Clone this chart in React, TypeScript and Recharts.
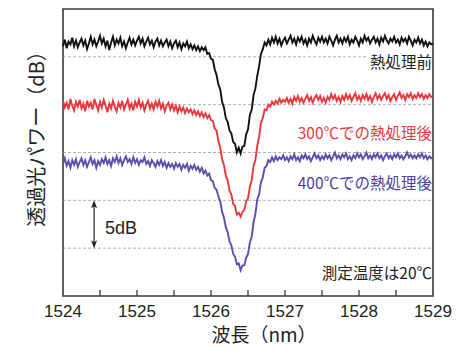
import { LineChart, Line, XAxis, YAxis, ReferenceLine, ReferenceArea } from "recharts";

// transmission spectra, dB, sampled every 0.025 nm from 1524 nm
const WL_START = 1524;
const WL_STEP = 0.025;

const X_TICKS = [1524, 1524.5, 1525, 1525.5, 1526, 1526.5, 1527, 1527.5, 1528, 1528.5, 1529];
const GRID_DB = [-5, -10, -15, -20, -25];

// 熱処理前
const BEFORE = [
  -3.9, -3.2, -4.1, -3.4, -3.7, -3.0, -3.9, -3.3, -4.0, -3.5,
  -3.1, -3.8, -3.3, -4.2, -3.6, -2.9, -3.7, -3.2, -3.9, -3.4,
  -2.8, -3.6, -3.1, -3.9, -3.3, -4.3, -3.5, -2.9, -3.8, -3.2,
  -3.6, -3.0, -3.9, -3.4, -4.1, -3.5, -3.0, -3.7, -3.2, -3.8,
  -3.3, -2.9, -3.6, -3.1, -3.9, -3.4, -3.0, -3.7, -3.3, -4.0,
  -3.4, -3.1, -3.8, -3.3, -3.9, -3.5, -3.2, -3.9, -3.4, -4.1,
  -3.6, -3.3, -4.0, -3.5, -4.2, -3.6, -3.9, -3.4, -4.1, -3.7,
  -4.2, -3.8, -4.3, -3.9, -4.4, -4.0, -4.3, -4.0, -4.7, -4.6,
  -5.2, -5.3, -6.3, -6.9, -7.9, -8.4, -9.7, -10.3, -11.4, -11.8,
  -12.7, -13.0, -13.9, -14.1, -15.0, -14.5, -15.1, -14.4, -14.3, -13.1,
  -12.6, -11.1, -10.5, -9.0, -8.3, -7.0, -6.0, -4.7, -4.2, -3.5,
  -3.8, -3.2, -3.7, -3.0, -3.5, -2.9, -3.6, -3.1, -3.8, -3.3,
  -3.0, -3.6, -3.2, -2.8, -3.5, -3.1, -3.7, -3.0, -3.4, -2.9,
  -3.6, -3.2, -3.8, -3.1, -3.5, -2.8, -3.3, -3.7, -3.0, -3.4,
  -2.9, -3.5, -3.1, -3.6, -2.9, -3.3, -3.8, -3.2, -2.8, -3.5,
  -3.1, -3.6, -3.0, -3.4, -2.9, -3.7, -3.2, -3.5, -2.9, -3.3,
  -3.8, -3.1, -3.5, -2.8, -3.3, -3.0, -3.6, -3.2, -2.9, -3.5,
  -3.1, -3.7, -3.0, -3.4, -2.8, -3.3, -3.6, -3.1, -3.4, -2.9,
  -3.5, -3.2, -3.7, -3.0, -3.4, -3.1, -3.6, -2.9, -3.3, -3.8,
  -3.2, -3.5, -3.0, -3.6, -3.2, -3.8, -3.4, -3.9, -3.5, -3.7,
  -3.6,
];

// 300℃での熱処理後
const AFTER_300 = [
  -9.6, -10.3, -9.8, -10.5, -9.4, -10.1, -10.6, -9.7, -10.2, -9.5,
  -10.4, -9.9, -10.7, -9.6, -10.2, -9.8, -10.5, -9.4, -10.0, -10.6,
  -9.7, -10.3, -9.5, -10.1, -10.8, -9.9, -10.4, -9.6, -10.2, -10.7,
  -9.8, -10.3, -9.6, -10.5, -10.0, -9.5, -10.4, -9.9, -10.6, -9.7,
  -10.2, -9.5, -10.3, -9.8, -10.6, -10.0, -9.6, -10.4, -9.9, -10.5,
  -9.7, -10.2, -9.6, -10.4, -9.9, -10.7, -10.1, -9.8, -10.5, -10.0,
  -10.6, -10.1, -10.8, -10.2, -10.7, -10.3, -10.9, -10.4, -10.8, -10.5,
  -11.0, -10.6, -11.1, -10.7, -11.2, -10.8, -11.3, -10.9, -11.4, -11.1,
  -11.6, -11.7, -12.5, -12.7, -13.8, -14.5, -15.7, -16.3, -17.4, -17.9,
  -19.0, -19.4, -20.4, -20.6, -21.5, -21.3, -21.7, -21.2, -21.0, -20.1,
  -19.8, -18.6, -17.9, -16.4, -15.8, -14.3, -13.4, -11.9, -11.4, -10.5,
  -10.6, -10.0, -10.2, -9.7, -10.0, -9.6, -9.9, -9.4, -9.8, -9.5,
  -9.7, -9.3, -9.8, -9.4, -9.9, -9.2, -9.6, -9.1, -9.7, -9.3,
  -9.8, -9.4, -9.0, -9.6, -9.2, -9.8, -9.3, -9.0, -9.5, -9.1,
  -9.7, -9.3, -9.8, -9.2, -9.5, -8.9, -9.4, -9.0, -9.6, -9.2,
  -9.7, -9.1, -9.5, -8.9, -9.4, -9.0, -9.6, -9.2, -8.8, -9.5,
  -9.1, -9.6, -9.0, -9.4, -8.9, -9.5, -9.1, -9.7, -9.2, -8.8,
  -9.4, -9.0, -9.5, -9.1, -8.8, -9.4, -9.0, -9.6, -9.2, -8.9,
  -9.5, -9.1, -8.7, -9.3, -9.0, -9.5, -8.9, -9.2, -8.8, -9.4,
  -9.0, -9.3, -8.8, -9.2, -8.9, -9.4, -9.0, -9.3, -8.9, -9.2,
  -9.1,
];

// 400℃での熱処理後
const AFTER_400 = [
  -16.2, -15.6, -16.4, -15.9, -16.6, -15.8, -16.3, -15.7, -16.5, -16.0,
  -15.6, -16.3, -15.8, -16.5, -16.0, -15.5, -16.2, -15.8, -16.6, -15.9,
  -16.3, -15.7, -16.1, -15.5, -16.2, -15.8, -16.4, -15.6, -16.0, -15.4,
  -16.1, -15.6, -16.3, -15.8, -15.4, -16.0, -15.7, -16.2, -15.5, -16.1,
  -15.7, -16.3, -15.8, -16.0, -15.5, -16.2, -15.9, -16.4, -15.8, -16.1,
  -16.5, -15.9, -16.3, -15.8, -16.4, -16.0, -16.6, -16.1, -16.5, -16.2,
  -16.7, -16.1, -16.5, -16.2, -16.8, -16.3, -16.6, -16.2, -16.9, -16.4,
  -16.7, -16.3, -16.8, -16.5, -17.0, -16.6, -17.2, -16.9, -17.4, -17.2,
  -17.9, -18.0, -18.7, -18.9, -19.6, -20.1, -21.2, -21.8, -22.8, -23.3,
  -24.3, -24.7, -25.6, -25.9, -26.7, -26.6, -27.3, -26.8, -26.8, -26.0,
  -25.6, -24.4, -23.8, -22.3, -21.4, -19.9, -19.4, -18.1, -17.6, -16.6,
  -16.4, -15.8, -16.0, -15.5, -15.9, -15.4, -15.8, -15.5, -15.7, -15.3,
  -15.8, -15.5, -15.9, -15.4, -15.7, -15.2, -15.8, -15.5, -15.9, -15.3,
  -15.6, -15.2, -15.7, -15.4, -15.9, -15.5, -15.1, -15.6, -15.3, -15.8,
  -15.4, -15.7, -15.2, -15.6, -15.3, -15.8, -15.4, -15.0, -15.6, -15.3,
  -15.7, -15.2, -15.5, -15.1, -15.7, -15.4, -15.8, -15.3, -15.6, -15.1,
  -15.5, -15.2, -15.7, -15.4, -15.0, -15.6, -15.3, -15.7, -15.2, -15.5,
  -15.1, -15.6, -15.3, -15.8, -15.4, -15.1, -15.6, -15.3, -15.7, -15.2,
  -15.5, -15.1, -15.6, -15.3, -15.7, -15.4, -15.0, -15.5, -15.2, -15.6,
  -15.3, -15.6, -15.2, -15.5, -15.1, -15.6, -15.3, -15.7, -15.4, -15.6,
  -15.5,
];

const ARROW_WL = 1524.42;
const ARROW_DB: [number, number] = [-20, -25];

const C = {
  frame: "#3a3a3a",
  grid: "#9a9a9a",
  text: "#222222",
  before: "#111111",
  a300: "#e8383d",
  a400: "#5a4fae",
  a400Text: "#4d3f9c",
};

const SANS = "'Liberation Sans', Arial, Helvetica, sans-serif";
const JP = "'Noto Sans CJK JP', 'Noto Sans', sans-serif";
const TRACE_W = 1.9;

const data = BEFORE.map((v, i) => ({
  wl: WL_START + i * WL_STEP,
  before: v,
  a300: AFTER_300[i],
  a400: AFTER_400[i],
}));

function WlTick(props: any) {
  const { x, y, payload } = props;
  const v = payload.value as number;
  const edge = v === X_TICKS[0] || v === X_TICKS[X_TICKS.length - 1];
  return (
    <g>
      {!edge && <line x1={x} y1={y} x2={x} y2={y - 6} stroke={C.frame} strokeWidth={1.3} />}
      {Number.isInteger(v) && (
        <text x={x} y={y + 21} textAnchor="middle" fontSize={17} fill={C.text} fontFamily={SANS}>
          {v}
        </text>
      )}
    </g>
  );
}

function ScaleArrow(props: any) {
  const { x1, y1, x2, y2 } = props;
  const top = Math.min(y1, y2);
  const bot = Math.max(y1, y2);
  return (
    <g>
      <line x1={x1} y1={top + 2} x2={x2} y2={bot - 2} stroke={C.text} strokeWidth={1.2} />
      <path d={`M${x1},${top} L${x1 - 3},${top + 8} L${x1},${top + 6} L${x1 + 3},${top + 8} Z`} fill={C.text} />
      <path d={`M${x1},${bot} L${x1 - 3},${bot - 8} L${x1},${bot - 6} L${x1 + 3},${bot - 8} Z`} fill={C.text} />
    </g>
  );
}

const label = (top: number, color: string, extra: object = {}) => ({
  position: "absolute" as const,
  right: 27,
  top,
  fontFamily: JP,
  fontSize: 15.5,
  lineHeight: "16px",
  color,
  whiteSpace: "nowrap" as const,
  ...extra,
});

export default function App() {
  return (
    <div style={{ position: "absolute", left: 0, top: 0, width: 459, height: 351, background: "#fff" }}>
      <LineChart width={459} height={351} data={data} margin={{ top: 9, right: 26, bottom: 25, left: 63 }}>
        <XAxis
          dataKey="wl"
          type="number"
          domain={[1524, 1529]}
          ticks={X_TICKS}
          interval={0}
          tickSize={0}
          tickMargin={0}
          tickLine={false}
          axisLine={false}
          height={30}
          tick={<WlTick />}
        />
        <YAxis type="number" domain={[-30, 0]} hide />
        {GRID_DB.map((g) => (
          <ReferenceLine key={g} y={g} stroke={C.grid} strokeWidth={0.8} strokeDasharray="3 2" />
        ))}
        <Line dataKey="before" stroke={C.before} strokeWidth={TRACE_W} dot={false} isAnimationActive={false} />
        <Line dataKey="a300" stroke={C.a300} strokeWidth={TRACE_W} dot={false} isAnimationActive={false} />
        <Line dataKey="a400" stroke={C.a400} strokeWidth={TRACE_W} dot={false} isAnimationActive={false} />
        <ReferenceLine
          segment={[
            { x: ARROW_WL, y: ARROW_DB[0] },
            { x: ARROW_WL, y: ARROW_DB[1] },
          ]}
          shape={<ScaleArrow />}
        />
        <ReferenceArea x1={1524} x2={1529} y1={-30} y2={0} fill="none" stroke={C.frame} strokeWidth={1.6} />
      </LineChart>

      <div style={label(53, C.text, { background: "#fff", paddingLeft: 4 })}>熱処理前</div>
      <div style={label(124, C.a300)}>300℃での熱処理後</div>
      <div style={label(174, C.a400Text)}>400℃での熱処理後</div>
      <div style={label(264, C.text)}>測定温度は20℃</div>

      <div style={{ position: "absolute", left: 105, top: 217, fontFamily: SANS, fontSize: 18, lineHeight: "22px", color: C.text }}>
        5dB
      </div>

      <div
        style={{
          position: "absolute",
          left: 36,
          top: 134,
          transform: "translate(-50%, -50%) rotate(-90deg)",
          fontFamily: JP,
          fontSize: 20,
          lineHeight: "22px",
          color: C.text,
          whiteSpace: "nowrap",
        }}
      >
        透過光パワー（dB）
      </div>

      <div
        style={{
          position: "absolute",
          left: 264,
          top: 334,
          transform: "translate(-50%, -50%)",
          fontFamily: JP,
          fontSize: 19,
          lineHeight: "22px",
          color: C.text,
          whiteSpace: "nowrap",
        }}
      >
        波長（nm）
      </div>
    </div>
  );
}
